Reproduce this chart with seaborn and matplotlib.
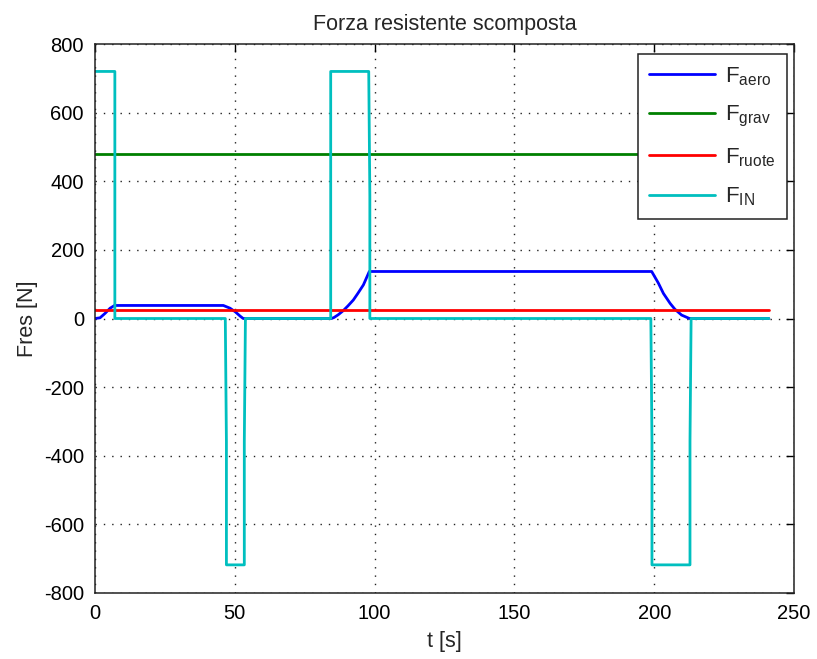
import matplotlib
matplotlib.use("Agg")
import matplotlib.pyplot as plt
import seaborn as sns

# --- data -------------------------------------------------------------
# aerodynamic drag [N]
t_aero = [0, 1.8, 3.6, 5.4, 7.0, 45.9, 48.3, 50.1, 51.9, 53.0,
          84.6, 85.5, 87.0, 88.8, 90.5, 92.4, 94.0, 96.0, 98.1,
          199.1, 201.5, 203.3, 205.7, 207.4, 209.8, 212.6, 241]
f_aero = [0, 2, 15, 30, 38, 38, 30, 20, 7, 0,
          0, 3, 11, 23, 37, 54, 73, 98, 137,
          137, 103, 73, 44, 27, 10, 0, 0]

# gravity (slope) component [N]
t_grav = [0, 241]
f_grav = [480, 480]

# rolling resistance [N]
t_ruote = [0, 241]
f_ruote = [24, 24]

# inertial force [N]
t_in = [0, 7.1, 7.1, 46.6, 47.0, 47.0, 53.4, 53.4, 53.8,
        84.3, 84.3, 97.9, 98.3, 98.3, 198.8, 199.2, 199.2,
        212.8, 212.8, 213.2, 241]
f_in = [720, 720, 0, 0, -359, -718, -718, -359, 0,
        0, 720, 720, 359, 0, 0, -359, -718, -718, -359, 0, 0]

labels = [r"$\mathrm{F_{aero}}$", r"$\mathrm{F_{grav}}$",
          r"$\mathrm{F_{ruote}}$", r"$\mathrm{F_{IN}}$"]
colors = [(0, 0, 1), (0, 0.5, 0), (1, 0, 0), (0, 0.75, 0.75)]

x_ticks = [0, 50, 100, 150, 200, 250]
y_ticks = [-800, -600, -400, -200, 0, 200, 400, 600, 800]

# --- style ------------------------------------------------------------
sns.set_style("white")
plt.rcParams["font.family"] = ["Liberation Sans", "DejaVu Sans"]
plt.rcParams["mathtext.fontset"] = "custom"
plt.rcParams["mathtext.rm"] = "Liberation Sans"
plt.rcParams["mathtext.it"] = "Liberation Sans:italic"
plt.rcParams["mathtext.bf"] = "Liberation Sans:bold"
plt.rcParams["axes.unicode_minus"] = False

fig = plt.figure(figsize=(8.17, 6.59), dpi=100)
ax = fig.add_axes([95 / 817, 1 - 593 / 659, 699 / 817, 549 / 659])

series = [(t_aero, f_aero), (t_grav, f_grav), (t_ruote, f_ruote), (t_in, f_in)]
for (tx, fy), lab, col in zip(series, labels, colors):
    sns.lineplot(x=tx, y=fy, ax=ax, color=col, lw=2, label=lab,
                 sort=False, estimator=None)

ax.set_xlim(0, 250)
ax.set_ylim(-800, 800)
ax.set_xticks(x_ticks)
ax.set_yticks(y_ticks)
ax.tick_params(axis="both", direction="in", length=6, width=1,
               top=True, right=True, labelsize=14.5, colors="black",
               pad=8)
for sp in ax.spines.values():
    sp.set_visible(True)
    sp.set_color("#222222")
    sp.set_linewidth(1.1)

ax.grid(True, color="#222222", linestyle=(0, (1, 5)), linewidth=1.0)
ax.set_axisbelow(True)

ax.set_title("Forza resistente scomposta", fontsize=15.5, pad=10)
ax.set_xlabel("t [s]", fontsize=15.5, labelpad=6)
ax.set_ylabel("Fres [N]", fontsize=15.5, labelpad=4)

leg = ax.legend(loc="upper right", bbox_to_anchor=(0.99, 0.982),
                fontsize=16, frameon=True, fancybox=False, shadow=False,
                handlelength=3.0, handletextpad=0.45, labelspacing=0.75,
                borderpad=0.5, borderaxespad=0)
leg.get_frame().set_edgecolor("#222222")
leg.get_frame().set_linewidth(1.1)
leg.get_frame().set_alpha(1)

fig.savefig("out.png", dpi=100, facecolor="white")
